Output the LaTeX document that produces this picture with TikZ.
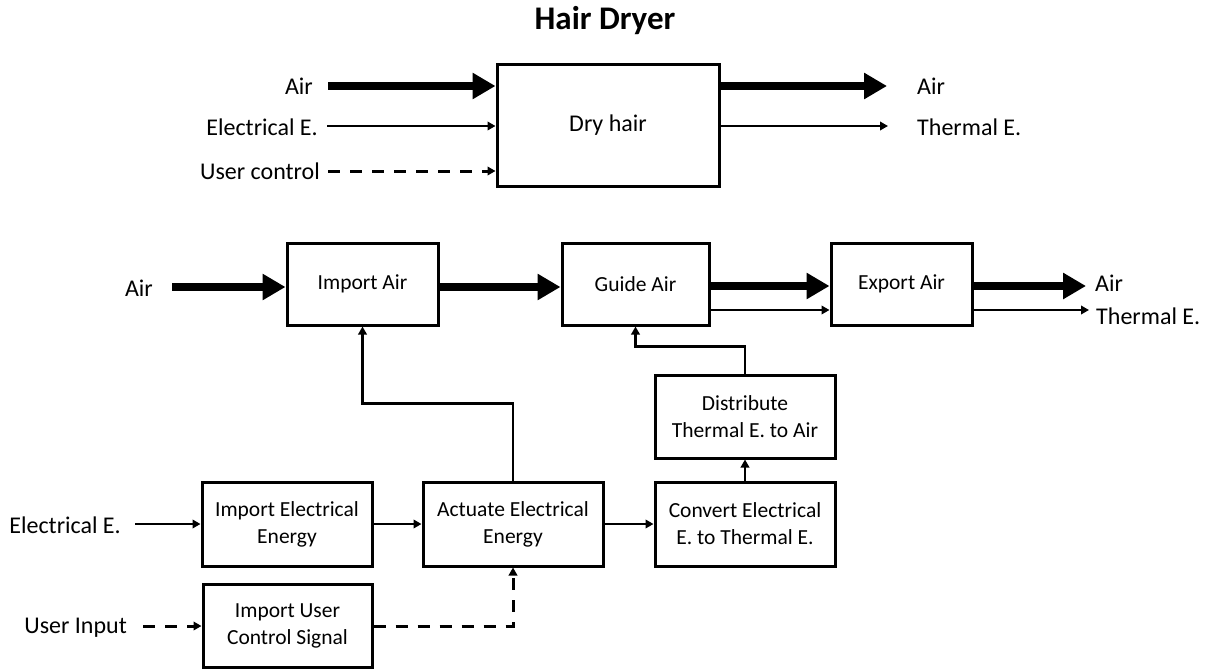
\documentclass[tikz,border=0pt]{standalone}
\usepackage{fontspec}
\setmainfont{Carlito}
\usetikzlibrary{arrows.meta}
\tikzset{
  box/.style={draw, line width=3pt, inner sep=0pt, align=center, font=\fontsize{21.5}{27}\selectfont},
  lbl/.style={inner sep=0pt, font=\fontsize{24}{29}\selectfont},
  thickarr/.style={line width=8.5pt, -{Triangle[length=23pt,width=25pt]}},
  thinarr/.style={line width=2.5pt, -{Triangle[length=8pt,width=8.5pt]}},
  dasharr/.style={thinarr, line width=3pt, dash pattern=on 12pt off 10pt},
}
\begin{document}
\begin{tikzpicture}[x=1pt,y=-1pt]
\useasboundingbox (0,0) rectangle (1212,669);
% title
\node[font=\fontsize{33}{40}\selectfont\bfseries] (title) at (605,21) {Hair Dryer};
% top box
\node[box, font=\fontsize{24}{29}\selectfont, minimum width=222pt, minimum height=121pt] (dry) at (608,125.5) {Dry hair};
\node[lbl, anchor=east] (tAir) at (313,86) {Air};
\node[lbl, anchor=east] (tEl) at (318,127) {Electrical E.};
\node[lbl, anchor=east] (tUc) at (320,171) {User control};
\coordinate (s1) at (328,86);
\coordinate (s2) at (327,126);
\coordinate (s3) at (328,171);
\draw[thickarr] (s1) -- (s1 -| dry.west);
\draw[thinarr] (s2) -- (s2 -| dry.west);
\draw[dasharr] (s3) -- (s3 -| dry.west);
\coordinate (e1) at (887,86);
\coordinate (e2) at (888,126);
\draw[thickarr] (e1 -| dry.east) -- (e1);
\draw[thinarr] (e2 -| dry.east) -- (e2);
\node[lbl, anchor=west] (oAir) at (917,86) {Air};
\node[lbl, anchor=west] (oTh) at (917,127) {Thermal E.};
% bottom boxes
\node[box, minimum width=151pt, minimum height=82pt] (ia) at (362.5,284) {Import Air};
\node[box, minimum width=147pt, minimum height=82pt] (ga) at (635.5,284) {Guide Air};
\node[box, minimum width=141pt, minimum height=82pt] (ea) at (901.5,284) {Export Air};
\node[box, minimum width=180pt, minimum height=83pt] (dist) at (745,416.5) {Distribute\\Thermal E. to Air};
\node[box, minimum width=170pt, minimum height=84pt] (ie) at (287,524) {Import Electrical\\Energy};
\node[box, minimum width=180pt, minimum height=84pt] (act) at (513,524) {Actuate Electrical\\Energy};
\node[box, minimum width=180pt, minimum height=84pt] (conv) at (745,524) {Convert Electrical\\E. to Thermal E.};
\node[box, minimum width=169pt, minimum height=83pt] (iu) at (287.5,626) {Import User\\Control Signal};
% bottom labels
\node[lbl, anchor=east] (bAir) at (153,288) {Air};
\node[lbl, anchor=east] (bEl) at (121,525) {Electrical E.};
\node[lbl, anchor=east] (bUi) at (127,628) {User Input};
\node[lbl, anchor=west] (bAirO) at (1095,283) {Air};
\node[lbl, anchor=west] (bThO) at (1096,316) {Thermal E.};
\coordinate (a0) at (172,287);
\coordinate (el0) at (135,524);
\coordinate (ui0) at (143,626);
\coordinate (ao) at (1086,286);
\coordinate (to) at (1089,310);
% bottom connectors
\draw[thickarr] (a0) -- (a0 -| ia.west);
\draw[thickarr] ([yshift=-3pt]ia.east) -- ([yshift=-3pt]ga.west);
\draw[thickarr] ([yshift=-2pt]ga.east) -- ([yshift=-2pt]ea.west);
\draw[thinarr] ([yshift=-26pt]ga.east) -- ([yshift=-26pt]ea.west);
\draw[thickarr] (ao -| ea.east) -- (ao);
\draw[thinarr] (to -| ea.east) -- (to);
\draw[thinarr] (el0) -- (ie.west);
\draw[dasharr] (ui0) -- (iu.west);
\draw[thinarr] (ie.east) -- (act.west);
\draw[thinarr] (act.east) -- (conv.west);
\draw[thinarr] (conv.north) -- (dist.south);
\draw[thinarr] (act.north) -- ++(0,-77) -| (ia.south);
\draw[thinarr] (dist.north) -- ++(0,-27) -| (ga.south);
\draw[dasharr] (iu.east) -| (act.south);
\end{tikzpicture}
\end{document}
